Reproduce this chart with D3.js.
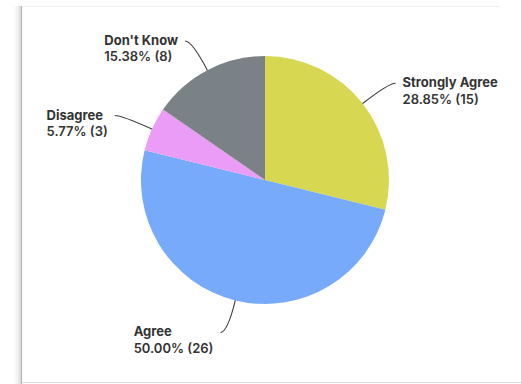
<!DOCTYPE html>
<html>
<head>
<meta charset="utf-8">
<script src="https://cdn.jsdelivr.net/npm/d3@7/dist/d3.min.js"></script>
<style>
  html, body { margin: 0; padding: 0; background: #fff; }
  svg { display: block; }
</style>
</head>
<body>
<svg id="chart" width="521" height="384"></svg>
<script>
const categories = ["Strongly Agree", "Agree", "Disagree", "Don't Know"];
const counts = [15, 26, 3, 8];
const percentLabels = ["28.85%", "50.00%", "5.77%", "15.38%"];
const colors = ["#d7d752", "#78aafc", "#eb9cf7", "#7a8288"];

const W = 521, H = 384;
const cx = 265, cy = 180, R = 124;
const svg = d3.select("#chart");

// frame
const defs = svg.append("defs");
const grad = defs.append("linearGradient").attr("id", "shadow").attr("x1", "0").attr("x2", "1");
grad.append("stop").attr("offset", "0").attr("stop-color", "#fff").attr("stop-opacity", 0);
grad.append("stop").attr("offset", "1").attr("stop-color", "#d8d8d8").attr("stop-opacity", 1);
svg.append("rect").attr("x", 12).attr("y", 6).attr("width", 9).attr("height", H - 6).attr("fill", "url(#shadow)");
svg.append("line").attr("x1", 21.5).attr("x2", 21.5).attr("y1", 6).attr("y2", H).attr("stroke", "#b8b8b8").attr("stroke-width", 1.2);
svg.append("line").attr("x1", 22).attr("x2", 500).attr("y1", 6.5).attr("y2", 6.5).attr("stroke", "#eeeeee").attr("stroke-width", 1);
svg.append("line").attr("x1", 22).attr("x2", W).attr("y1", 382.5).attr("y2", 382.5).attr("stroke", "#dcdcdc").attr("stroke-width", 1);

const data = categories.map((c, i) => ({ name: c, value: counts[i], pct: percentLabels[i], color: colors[i] }));
const pie = d3.pie().value(d => d.value).sort(null);
const arcs = pie(data);
const arcGen = d3.arc().innerRadius(0).outerRadius(R);

const g = svg.append("g").attr("transform", `translate(${cx},${cy})`);
g.selectAll("path.slice").data(arcs).enter().append("path")
  .attr("class", "slice")
  .attr("d", arcGen)
  .attr("fill", d => d.data.color);

// leader lines and labels
const radialLen = 33, stub = 7, gap = 7;
const labelsG = svg.append("g");
arcs.forEach(a => {
  const mid = (a.startAngle + a.endAngle) / 2;
  const dx = Math.sin(mid), dy = -Math.cos(mid);
  const p0 = [cx + R * dx, cy + R * dy];
  const elbow = [cx + (R + radialLen) * dx, cy + (R + radialLen) * dy];
  const right = dx >= 0;
  const end = [elbow[0] + (right ? stub : -stub), elbow[1]];
  const p = d3.path();
  p.moveTo(p0[0], p0[1]);
  p.quadraticCurveTo(elbow[0], elbow[1], end[0], end[1]);
  labelsG.append("path").attr("d", p.toString())
    .attr("fill", "none").attr("stroke", "#3a3a3a").attr("stroke-width", 1.1);

  const t = labelsG.append("text")
    .attr("font-family", "Inter, 'Open Sans', sans-serif")
    .attr("font-size", 13)
    .attr("fill", "#333");
  const l1 = t.append("tspan").attr("font-weight", 700).text(a.data.name);
  const l2 = t.append("tspan").attr("font-weight", 600).text(`${a.data.pct} (${a.data.value})`);
  const w = Math.max(l1.node().getComputedTextLength(), l2.node().getComputedTextLength());
  const x = right ? end[0] + gap : end[0] - gap - w;
  const y = end[1] + 4;
  l1.attr("x", x).attr("y", y);
  l2.attr("x", x).attr("y", y + 16.5);
});
</script>
</body>
</html>
